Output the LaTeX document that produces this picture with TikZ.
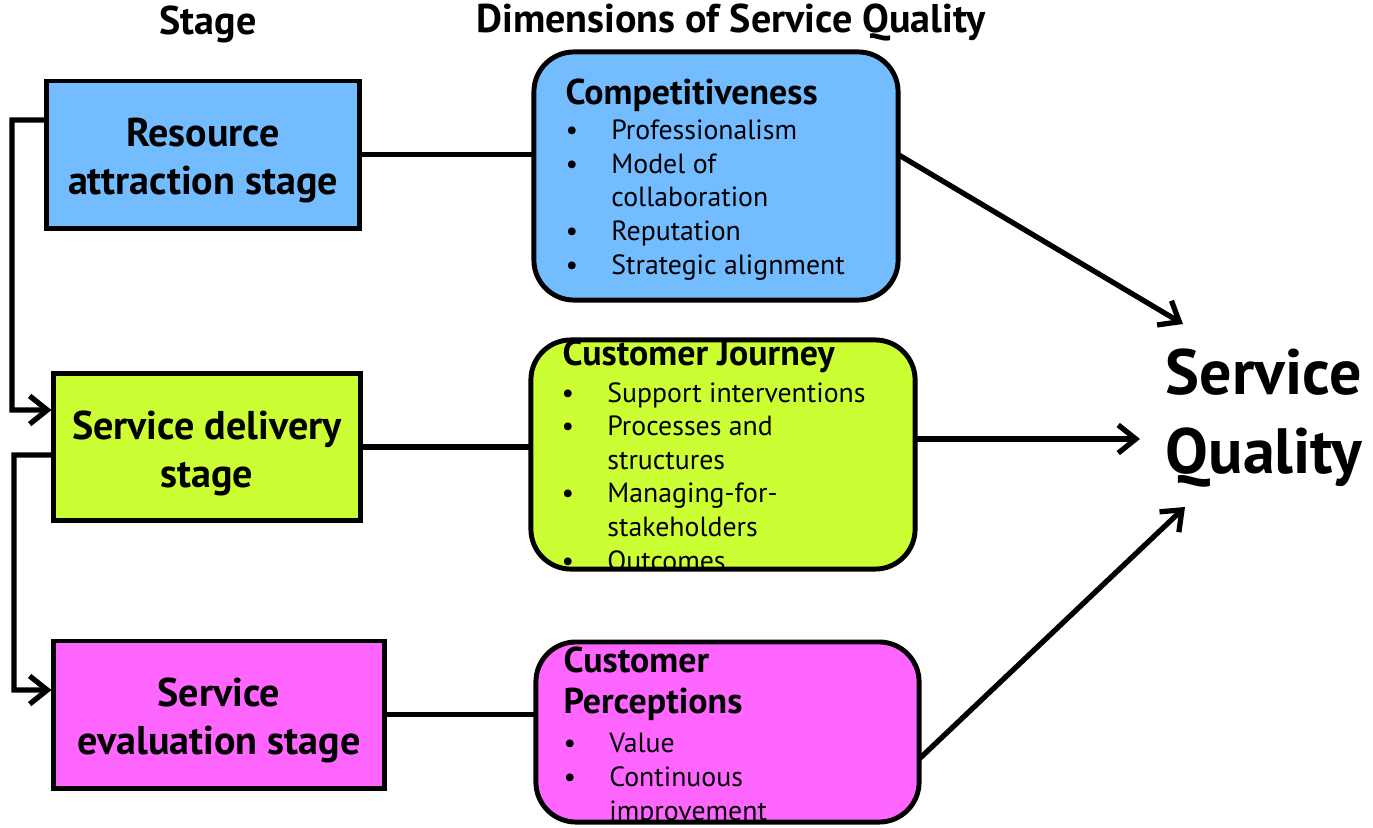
\documentclass[tikz,border=0pt]{standalone}
\usepackage{fontspec}
\setmainfont{PT Sans}
\usetikzlibrary{arrows.meta,positioning}
\definecolor{resblue}{RGB}{114,188,255}
\definecolor{delgreen}{RGB}{204,255,51}
\definecolor{evalpink}{RGB}{255,102,255}
\newcommand{\bul}{\makebox[13pt][l]{\textbullet}}
\newcommand{\cont}{\hspace*{13pt}}
\newcommand{\lift}{\rule{0pt}{11.6pt}}

\begin{document}
\begin{tikzpicture}[x=0.01cm,y=-0.01cm,
    stagebox/.style={draw,line width=1.4pt,minimum height=1.47cm,align=center,font=\fontsize{11.4}{13.7}\selectfont\bfseries},
    dimbox/.style={rounded corners=0.4cm,outer sep=0pt,inner sep=0pt},
    dimedge/.style={line width=1.4pt,rounded corners=0.4cm},
    % multi-line nodes sit on the baseline of their last line
    dimtitle/.style={anchor=base west,inner sep=0pt,align=left,font=\fontsize{10.2}{11.4}\selectfont\bfseries},
    dimlist/.style={anchor=base west,inner sep=0pt,align=left,font=\fontsize{7.9}{9.55}\selectfont},
    head/.style={font=\fontsize{11.4}{13}\selectfont\bfseries},
    link/.style={line width=1.5pt},
    flow/.style={line width=1.5pt,-{Straight Barb[length=5pt,width=8pt]}}]
    \useasboundingbox (0,0) rectangle (1373,827);

    % column heads
    \node[head] (stagehead) at (208,24) {Stage};
    \node[head] (dimhead) at (731,22) {Dimensions of Service Quality};

    % stages
    \node[stagebox,fill=resblue,minimum width=3.12cm] (res) at (203,154.5) {\lift Resource\\attraction stage};
    \node[stagebox,fill=delgreen,minimum width=3.06cm] (del) at (207,447) {\lift Service delivery\\stage};
    \node[stagebox,fill=evalpink,minimum width=3.30cm] (eva) at (219,714.5) {\lift Service\\evaluation stage};

    % dimensions
    \node[dimbox,fill=resblue,minimum width=3.64cm,minimum height=2.48cm] (comp) at (716,176) {};
    \node[dimbox,fill=delgreen,minimum width=3.84cm,minimum height=2.29cm] (journ) at (723,454.5) {};
    \node[dimbox,fill=evalpink,minimum width=3.83cm,minimum height=1.80cm] (perc) at (727.5,732) {};

    \begin{scope}
        \clip[rounded corners=0.4cm] (comp.south west) rectangle (comp.north east);
        \node[dimtitle] (comptitle) at (565,104) {Competitiveness};
        \node[dimlist] (complist) at (565,274) {\bul Professionalism\\\bul Model of\\\cont collaboration\\\bul Reputation\\\bul Strategic alignment};
    \end{scope}
    \begin{scope}
        \clip[rounded corners=0.4cm] (journ.south west) rectangle (journ.north east);
        \node[dimtitle] (journtitle) at (562,365) {Customer Journey};
        \node[dimlist] (journlist) at (561,570) {\bul Support interventions\\\bul Processes and\\\cont structures\\\bul Managing-for-\\\cont stakeholders\\\bul Outcomes};
    \end{scope}
    \begin{scope}
        \clip[rounded corners=0.4cm] (perc.south west) rectangle (perc.north east);
        \node[dimtitle] (perctitle) at (563,713) {Customer\\Perceptions};
        \node[dimlist] (perclist) at (563,820) {\bul Value\\\bul Continuous\\\cont improvement};
    \end{scope}
    \draw[dimedge] (comp.south west) rectangle (comp.north east);
    \draw[dimedge] (journ.south west) rectangle (journ.north east);
    \draw[dimedge] (perc.south west) rectangle (perc.north east);

    % outcome
    \node[anchor=west,inner sep=0pt,align=left,font=\fontsize{18.2}{22.2}\selectfont\bfseries] (sq) at (1165,418) {Service\\Quality};
    \coordinate (q1) at (1183,324);
    \coordinate (q2) at (1140,439);
    \coordinate (q3) at (1185,507);

    % links
    \draw[link] (res.east) -- (comp.west |- res.east);
    \draw[link] (del.east) -- (journ.west |- del.east);
    \draw[link] (eva.east) -- (perc.west |- eva.east);
    \draw[flow] (comp.east |- res.east) -- (q1);
    \draw[flow] (journ.east |- q2) -- (q2);
    \draw[flow] ([yshift=-0.27cm]perc.east) -- (q3);

    % stage sequence
    \draw[flow] ([yshift=0.345cm]res.west) -| (12,410) -- ([yshift=0.37cm]del.west);
    \draw[flow] ([yshift=-0.08cm]del.west) -| (14,690) -- ([yshift=0.245cm]eva.west);
\end{tikzpicture}
\end{document}
